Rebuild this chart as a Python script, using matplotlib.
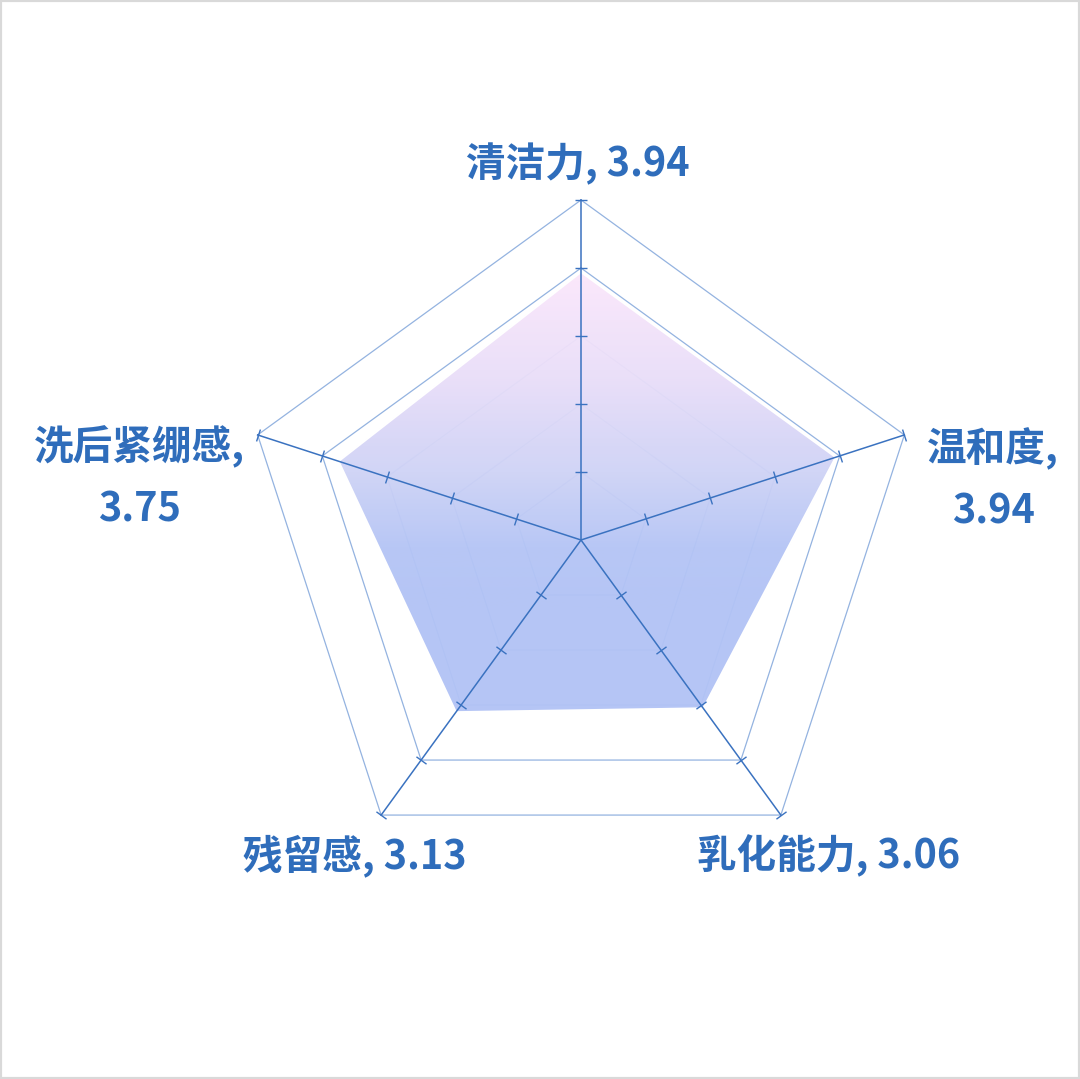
import numpy as np
import matplotlib.pyplot as plt
from matplotlib.patches import Polygon, Rectangle
from matplotlib.colors import LinearSegmentedColormap

plt.rcParams['font.family'] = ['Noto Sans CJK SC', 'DejaVu Sans']

categories = ['清洁力', '温和度', '乳化能力', '残留感', '洗后紧绷感']
values = [3.94, 3.94, 3.06, 3.13, 3.75]
levels = [1, 2, 3, 4, 5]

blue = '#2f6dbb'
grid_col = '#94b3e0'

n = len(categories)
angles = np.pi / 2 - np.arange(n) * 2 * np.pi / n

fig = plt.figure(figsize=(10.8, 10.79), dpi=100)
ax = fig.add_axes([0, 0, 1, 1])
scale = 68.0
cx, cy = 581, 540
xlim = (-cx / scale, (1080 - cx) / scale)
ylim = (-(1079 - cy) / scale, cy / scale)
ax.axis('off')

# grid pentagons
for lv in levels:
    xs = np.append(lv * np.cos(angles), lv * np.cos(angles[0]))
    ys = np.append(lv * np.sin(angles), lv * np.sin(angles[0]))
    ax.plot(xs, ys, color=grid_col, lw=0.9, zorder=1)

# gradient fill, clipped to the value polygon
vx = np.array(values) * np.cos(angles)
vy = np.array(values) * np.sin(angles)
poly = Polygon(np.column_stack([vx, vy]), closed=True, facecolor='none',
               edgecolor='white', lw=1.5, zorder=3)
ax.add_patch(poly)
cmap = LinearSegmentedColormap.from_list(
    'grad', [(0.0, '#b2c3f5'), (0.18, '#b5c5f5'), (0.4, '#cfd3f6'),
             (0.7, '#ebdff9'), (1.0, '#fce7fb')])
grad = np.linspace(0, 1, 256).reshape(-1, 1)
img = ax.imshow(grad, cmap=cmap, origin='lower', aspect='auto',
                extent=(-5, 5, -1.0, 4.0), alpha=0.96, zorder=2)
img.set_clip_path(poly)
low = ax.imshow(np.zeros((1, 1)), cmap=LinearSegmentedColormap.from_list('b', ['#b2c3f5', '#b2c3f5']),
                aspect='auto', extent=(-5, 5, -5, -1.0), alpha=0.96, zorder=2)
low.set_clip_path(poly)
ax.set_xlim(*xlim)
ax.set_ylim(*ylim)

# spokes with ticks
for a in angles:
    ax.plot([0, 5 * np.cos(a)], [0, 5 * np.sin(a)], color='#3a72c0', lw=1.1, zorder=4)
    lx = np.array(levels) * np.cos(a)
    ly = np.array(levels) * np.sin(a)
    ax.plot(lx, ly, ls='none', marker=(2, 0, np.degrees(a)), ms=9,
            mec='#3a72c0', mew=1.0, zorder=4)

# labels
label_pos = [(-0.04, 5.53), (6.06, 0.88), (3.64, -4.64), (-3.32, -4.64), (-6.49, 0.91)]
label_txt = [f'{categories[0]}, {values[0]:.2f}',
             f'{categories[1]},\n{values[1]:.2f}',
             f'{categories[2]}, {values[2]:.2f}',
             f'{categories[3]}, {values[3]:.2f}',
             f'{categories[4]},\n{values[4]:.2f}']
for (x, y), t in zip(label_pos, label_txt):
    ax.text(x, y, t, ha='center', va='center', fontsize=28.5, fontweight='bold',
            color=blue, linespacing=1.68, zorder=5)

fig.add_artist(Rectangle((0, 0), 1, 1, transform=fig.transFigure, fill=False,
                         edgecolor='#d9d9d9', lw=3))

fig.savefig('out.png', dpi=100)
